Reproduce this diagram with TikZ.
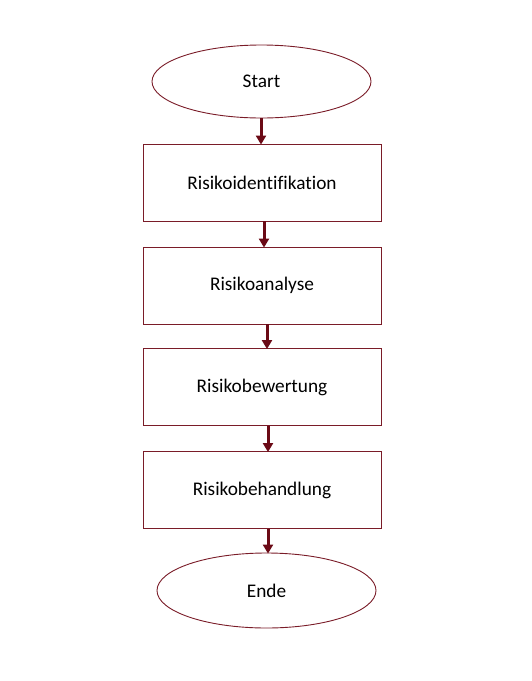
\documentclass[tikz,border=0pt]{standalone}
\usepackage{fontspec}
\setmainfont[Ligatures=NoCommon]{Carlito}
\usetikzlibrary{shapes.geometric,arrows.meta,calc}
\definecolor{brd}{HTML}{7A1C28}
\definecolor{arr}{HTML}{6B0A16}
\begin{document}
\begin{tikzpicture}[x=1pt,y=-1pt,
  box/.style={draw=brd,line width=0.9pt,fill=white,minimum width=238pt,minimum height=77pt,inner sep=0pt,font=\fontsize{19.3}{22}\selectfont},
  oval/.style={ellipse,draw=brd,line width=0.9pt,fill=white,minimum width=219pt,minimum height=73pt,inner sep=0pt,font=\fontsize{19.3}{22}\selectfont},
  conn/.style={draw=arr,line width=3pt,-{Triangle[length=9pt,width=10pt]},shorten >=-1pt}]
\useasboundingbox (0,0) rectangle (531,681);
\node[oval] (start) at (261.5,81.5) {Start};
\node[box] (b1) at (262,182.5) {Risikoidentifikation};
\node[box] (b2) at (262,285.5) {Risikoanalyse};
\node[box] (b3) at (262,387) {Risikobewertung};
\node[box] (b4) at (262,490) {Risikobehandlung};
\node[oval,minimum height=75pt] (ende) at (266.5,590.5) {Ende};
\draw[conn] ($(start.south)+(-0.5,0)$) -- ($(b1.north)+(-1,0)$);
\draw[conn] ($(b1.south)+(2,0)$) -- ($(b2.north)+(2,0)$);
\draw[conn] ($(b2.south)+(5,0)$) -- ($(b3.north)+(5,0)$);
\draw[conn] ($(b3.south)+(6,0)$) -- ($(b4.north)+(6,0)$);
\draw[conn] ($(b4.south)+(6,0)$) -- ($(ende.north)+(1.5,0)$);
\end{tikzpicture}
\end{document}
